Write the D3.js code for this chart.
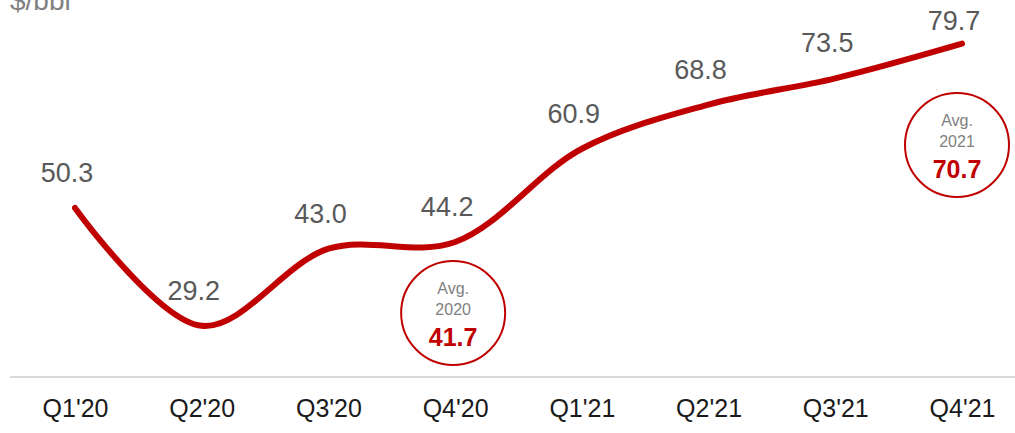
<!DOCTYPE html>
<html>
<head>
<meta charset="utf-8">
<script src="https://cdn.jsdelivr.net/npm/d3@7"></script>
<style>
  body { margin: 0; background: #ffffff; }
  text { font-family: "Liberation Sans", "DejaVu Sans", sans-serif; }
</style>
</head>
<body>
<div id="chart"></div>
<script>
// Brent price per quarter, $/bbl
const quarters = ["Q1'20", "Q2'20", "Q3'20", "Q4'20", "Q1'21", "Q2'21", "Q3'21", "Q4'21"];
const prices = [50.3, 29.2, 43.0, 44.2, 60.9, 68.8, 73.5, 79.7];
const avgYears = ["2020", "2021"];
const avgValues = [41.7, 70.7];
const avgAnchorQuarter = ["Q4'20", "Q4'21"];

const width = 1015, height = 433;
const red = "#c00000";

const svg = d3.select("#chart").append("svg")
  .attr("width", width)
  .attr("height", height);

const x = d3.scalePoint()
  .domain(quarters)
  .range([75, 962]);

const y = d3.scaleLinear()
  .domain([0, 80])
  .range([489, 42]);

// baseline
const axisY = 377;
svg.append("line")
  .attr("x1", 10).attr("x2", width)
  .attr("y1", axisY).attr("y2", axisY)
  .attr("stroke", "#d9d9d9")
  .attr("stroke-width", 2);

const xAxis = svg.append("g")
  .attr("transform", `translate(0,${axisY})`)
  .call(d3.axisBottom(x).tickSize(0).tickPadding(22));
xAxis.select(".domain").remove();
xAxis.selectAll("text")
  .attr("font-size", 25)
  .attr("fill", "#1a1a1a")
  .style("font-family", "'Liberation Sans', sans-serif");

// unit label (clipped at the top, as in the source slide)
svg.append("text")
  .attr("x", 10).attr("y", 10)
  .attr("font-size", 28)
  .attr("fill", "#808080")
  .text("$/bbl");

const data = quarters.map((q, i) => ({ q, v: prices[i] }));

const line = d3.line()
  .x(d => x(d.q))
  .y(d => y(d.v))
  .curve(d3.curveCatmullRom.alpha(0.5));

svg.append("path")
  .datum(data)
  .attr("fill", "none")
  .attr("stroke", red)
  .attr("stroke-width", 6)
  .attr("stroke-linecap", "round")
  .attr("d", line);

svg.selectAll(".val")
  .data(data)
  .enter().append("text")
  .attr("class", "val")
  .attr("x", d => x(d.q) - 8)
  .attr("y", d => Math.max(y(d.v) - 26, 30))
  .attr("text-anchor", "middle")
  .attr("font-size", 27)
  .attr("fill", "#595959")
  .text(d => d.v.toFixed(1));

// average bubbles
const bubbles = avgYears.map((yr, i) => ({ yr, v: avgValues[i], q: avgAnchorQuarter[i] }));
const bubbleCy = [313, 145];
const bubbleDx = [-2, -5];
const bg = svg.selectAll(".avg")
  .data(bubbles)
  .enter().append("g")
  .attr("class", "avg")
  .attr("transform", (d, i) => `translate(${x(d.q) + bubbleDx[i]},${bubbleCy[i]})`);

bg.append("circle")
  .attr("r", 52)
  .attr("fill", "#ffffff")
  .attr("stroke", red)
  .attr("stroke-width", 2);

bg.append("text")
  .attr("y", -19)
  .attr("text-anchor", "middle")
  .attr("font-size", 16)
  .attr("fill", "#808080")
  .text("Avg.");

bg.append("text")
  .attr("y", 2)
  .attr("text-anchor", "middle")
  .attr("font-size", 16)
  .attr("fill", "#808080")
  .text(d => d.yr);

bg.append("text")
  .attr("y", 33)
  .attr("text-anchor", "middle")
  .attr("font-size", 25)
  .attr("font-weight", "bold")
  .attr("fill", red)
  .text(d => d.v.toFixed(1));
</script>
</body>
</html>
